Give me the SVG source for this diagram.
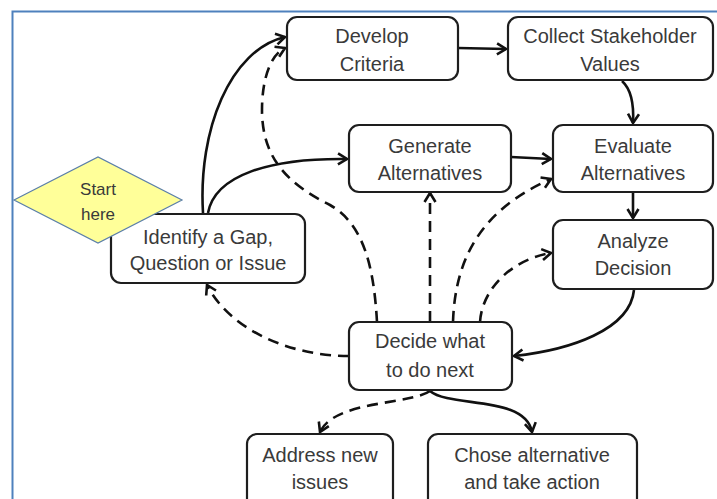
<svg xmlns="http://www.w3.org/2000/svg" width="717" height="499" viewBox="0 0 717 499">
<style>
.box{fill:#fff;stroke:#1e1e1e;stroke-width:2.2}
.t{font-family:"Liberation Sans",Arial,sans-serif;font-size:20px;fill:#3a3a3a;text-anchor:middle}
.ts{font-family:"Liberation Sans",Arial,sans-serif;font-size:17px;fill:#3a3a3a;text-anchor:middle}
.c{fill:none;stroke:#111;stroke-width:2.6;marker-end:url(#ah)}
.d{stroke-dasharray:11 7}
</style>
<defs>
<marker id="ah" markerUnits="userSpaceOnUse" markerWidth="14" markerHeight="14" refX="11" refY="7" orient="auto" viewBox="0 0 14 14">
<path d="M2,1.5 L11,7 L2,12.5" fill="none" stroke="#111" stroke-width="2.6" stroke-linejoin="miter"/>
</marker>
</defs>
<rect x="0" y="0" width="717" height="499" fill="#fff"/>
<rect x="12.5" y="11.5" width="720" height="500" fill="none" stroke="#4f81bd" stroke-width="2"/>
<g id="connectors">
<path class="c" d="M203,213 C198,130 230,50 285,37"/>
<path class="c" d="M208,213 C215,175 270,158 347,159"/>
<path class="c" d="M458,48 L506,49"/>
<path class="c" d="M622,81 C632,90 634,105 633,123"/>
<path class="c" d="M511,157 L551,159"/>
<path class="c" d="M633,192 L633,218"/>
<path class="c" d="M634,290 C630,330 570,350 514,356"/>
<path class="c" d="M430,391 C450,408 525,395 532,432"/>
<path class="c d" d="M349,356 C290,356 230,330 207,285"/>
<path class="c d" d="M377,322 C374,270 365,225 330,205 C290,185 262,160 262,110 C262,80 270,55 285,48"/>
<path class="c d" d="M430,322 L430,193"/>
<path class="c d" d="M453,322 C455,260 480,210 551,179"/>
<path class="c d" d="M480,322 C482,290 510,260 551,253"/>
<path class="c d" d="M430,391 C410,405 335,400 320,432"/>
</g>
<g id="develop"><rect class="box" x="287" y="17" width="171" height="63" rx="10"/><text class="t" x="372" y="43">Develop</text><text class="t" x="372" y="71">Criteria</text></g>
<g id="collect"><rect class="box" x="508" y="17" width="205" height="63" rx="10"/><text class="t" x="610" y="43">Collect Stakeholder</text><text class="t" x="610" y="71">Values</text></g>
<g id="generate"><rect class="box" x="349" y="125" width="162" height="67" rx="10"/><text class="t" x="430" y="153">Generate</text><text class="t" x="430" y="180">Alternatives</text></g>
<g id="evaluate"><rect class="box" x="553" y="125" width="160" height="67" rx="10"/><text class="t" x="633" y="153">Evaluate</text><text class="t" x="633" y="180">Alternatives</text></g>
<g id="analyze"><rect class="box" x="553" y="220" width="160" height="69" rx="10"/><text class="t" x="633" y="248">Analyze</text><text class="t" x="633" y="275">Decision</text></g>
<g id="identify"><rect class="box" x="111" y="214" width="194" height="69" rx="10"/><text class="t" x="208" y="244">Identify a Gap,</text><text class="t" x="208" y="270">Question or Issue</text></g>
<g id="start"><polygon points="14,200 98,157 182,200 98,243" fill="#ffff99" stroke="#5b7fa8" stroke-width="1.2"/><text class="ts" x="98" y="195">Start</text><text class="ts" x="98" y="220">here</text></g>
<g id="decide"><rect class="box" x="349" y="322" width="163" height="68" rx="10"/><text class="t" x="430" y="348">Decide what</text><text class="t" x="430" y="377">to do next</text></g>
<g id="address"><rect class="box" x="247" y="434" width="146" height="80" rx="10"/><text class="t" x="320" y="462">Address new</text><text class="t" x="320" y="489">issues</text></g>
<g id="chose"><rect class="box" x="428" y="434" width="209" height="80" rx="10"/><text class="t" x="532" y="462">Chose alternative</text><text class="t" x="532" y="489">and take action</text></g>
</svg>
